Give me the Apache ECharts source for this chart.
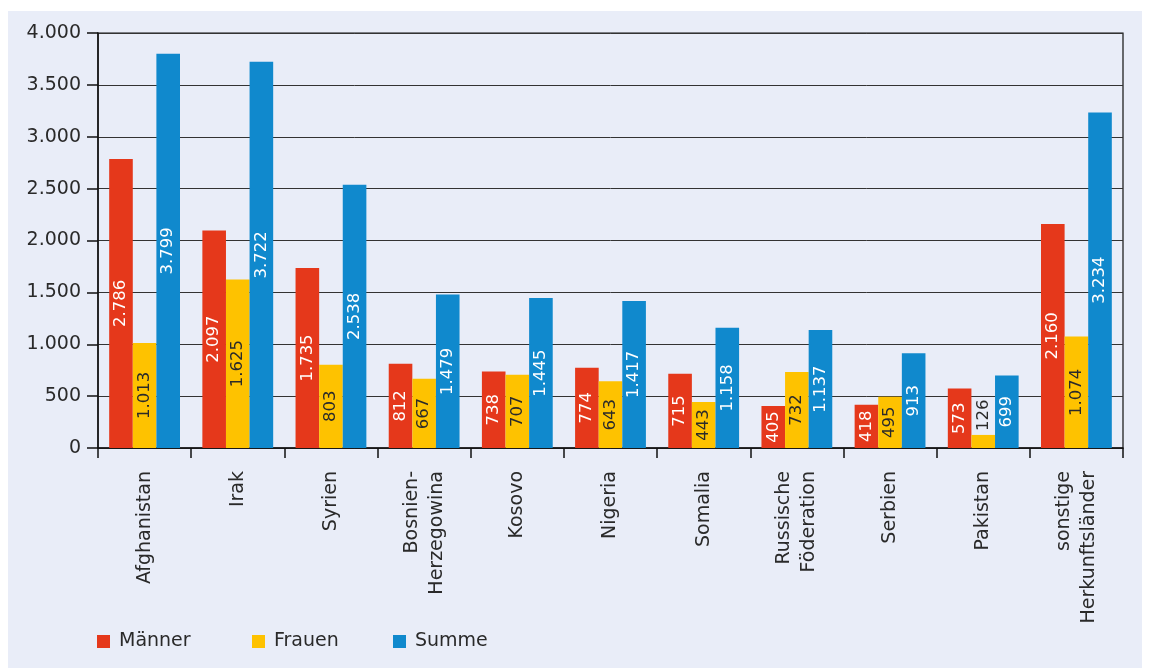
<!DOCTYPE html>
<html>
<head>
<meta charset="utf-8">
<script src="https://cdn.jsdelivr.net/npm/echarts@6/dist/echarts.min.js"></script>
<style>
  html, body { margin: 0; padding: 0; background: #fff; }
  #chart { width: 1149px; height: 668px; }
</style>
</head>
<body>
<div id="chart"></div>
<script>
// Herkunftsländer
const categories = [
  'Afghanistan', 'Irak', 'Syrien', 'Bosnien-\nHerzegowina', 'Kosovo', 'Nigeria',
  'Somalia', 'Russische\nFöderation', 'Serbien', 'Pakistan', 'sonstige\nHerkunftsländer'
];
const maenner = [2786, 2097, 1735, 812, 738, 774, 715, 405, 418, 573, 2160];
const frauen  = [1013, 1625, 803, 667, 707, 643, 443, 732, 495, 126, 1074];
const summe   = [3799, 3722, 2538, 1479, 1445, 1417, 1158, 1137, 913, 699, 3234];
const yTicks = [0, 500, 1000, 1500, 2000, 2500, 3000, 3500, 4000];

const FONT = '"DejaVu Sans", sans-serif';
const TEXT = '#2a2a2a';
const BG = '#e9edf8';

// German thousands separator
function fmt(v) {
  return String(v).replace(/\B(?=(\d{3})+(?!\d))/g, '.');
}

function barLabel(color) {
  return {
    show: true,
    position: 'inside',
    rotate: 90,
    fontFamily: FONT,
    fontSize: 16.5,
    color: color,
    formatter: p => fmt(p.value)
  };
}

// small bars get their label placed above the bar
function withSmallLabels(values, threshold) {
  return values.map(v => v < threshold ? {
    value: v,
    label: {
      position: 'top', rotate: 90, align: 'left', verticalAlign: 'middle',
      distance: 4, color: TEXT
    }
  } : v);
}

const chart = echarts.init(document.getElementById('chart'), null, { renderer: 'canvas' });

function legendAt(left, name) {
  return {
    left: left, top: 632, padding: 0,
    icon: 'rect', itemWidth: 13, itemHeight: 13,
    data: [name],
    textStyle: { fontFamily: FONT, fontSize: 19, color: TEXT, padding: [0, 0, 0, 4] }
  };
}

chart.setOption({
  backgroundColor: '#ffffff',
  animation: false,
  graphic: [{
    type: 'rect', z: -10, silent: true,
    shape: { x: 8, y: 11, width: 1134, height: 657 },
    style: { fill: BG }
  }],
  legend: [legendAt(97, 'Männer'), legendAt(252, 'Frauen'), legendAt(393, 'Summe')],
  grid: {
    left: 98, top: 33, right: 26, bottom: 220,
    show: true, borderColor: '#111', borderWidth: 1.2, backgroundColor: 'transparent'
  },
  xAxis: {
    type: 'category',
    data: categories,
    axisLine: { lineStyle: { color: '#111', width: 1.5 } },
    axisTick: { show: true, length: 10, lineStyle: { color: '#111', width: 1.5 } },
    axisLabel: {
      rotate: 90, margin: 23, interval: 0,
      fontFamily: FONT, fontSize: 19, color: TEXT, lineHeight: 25
    },
    splitLine: { show: false }
  },
  yAxis: {
    type: 'value',
    min: yTicks[0], max: yTicks[yTicks.length - 1], interval: 500,
    axisLine: { show: true, lineStyle: { color: '#111', width: 1.5 } },
    axisTick: { show: true, length: 11, lineStyle: { color: '#111', width: 1.5 } },
    axisLabel: {
      margin: 17, fontFamily: FONT, fontSize: 19, color: TEXT,
      formatter: v => fmt(v)
    },
    splitLine: { show: true, lineStyle: { color: '#333', width: 1 } }
  },
  series: [
    {
      name: 'Männer', type: 'bar', data: withSmallLabels(maenner, 200),
      barGap: 0, barCategoryGap: '24%',
      itemStyle: { color: '#e5381b' },
      label: barLabel('#ffffff')
    },
    {
      name: 'Frauen', type: 'bar', data: withSmallLabels(frauen, 200),
      barGap: 0, barCategoryGap: '24%',
      itemStyle: { color: '#fec200' },
      label: barLabel(TEXT)
    },
    {
      name: 'Summe', type: 'bar', data: withSmallLabels(summe, 200),
      barGap: 0, barCategoryGap: '24%',
      itemStyle: { color: '#1089cd' },
      label: barLabel('#ffffff')
    }
  ]
});
</script>
</body>
</html>
